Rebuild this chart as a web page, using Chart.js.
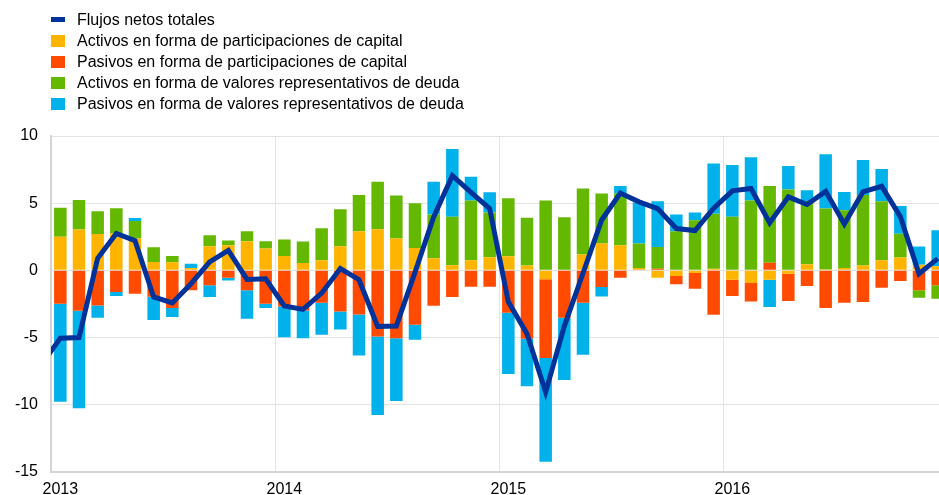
<!DOCTYPE html>
<html lang="es">
<head>
<meta charset="utf-8">
<title>Flujos netos de inversiones de cartera</title>
<script src="https://cdn.jsdelivr.net/npm/chart.js@4.4.1/dist/chart.umd.min.js"></script>
<style>
  html, body { margin: 0; padding: 0; background: #fff; overflow: hidden; }
  #wrap { position: relative; width: 939px; height: 495px; overflow: hidden; }
  #net-chart { position: absolute; left: 0; top: 0; }
  #legend { position: absolute; left: 0; top: 0; font: 16px "Liberation Sans", Arial, sans-serif; color: #000; }
  .row { position: absolute; left: 0; height: 22px; line-height: 22px; white-space: nowrap; }
  .row .mk { position: absolute; left: 51px; width: 14px; }
  .row .tx { position: absolute; left: 77px; top: 0; }
</style>
</head>
<body>
<div id="wrap">
  <canvas id="net-chart" width="960" height="507"></canvas>
  <div id="legend"></div>
</div>
<script>
// meses (el primero, dic 2012, queda fuera del eje y solo sirve para el tramo inicial de la linea)
var months = [
  '2012-12',
  '2013-01', '2013-02', '2013-03', '2013-04', '2013-05', '2013-06',
  '2013-07', '2013-08', '2013-09', '2013-10', '2013-11', '2013-12',
  '2014-01', '2014-02', '2014-03', '2014-04', '2014-05', '2014-06',
  '2014-07', '2014-08', '2014-09', '2014-10', '2014-11', '2014-12',
  '2015-01', '2015-02', '2015-03', '2015-04', '2015-05', '2015-06',
  '2015-07', '2015-08', '2015-09', '2015-10', '2015-11', '2015-12',
  '2016-01', '2016-02', '2016-03', '2016-04', '2016-05', '2016-06',
  '2016-07', '2016-08', '2016-09', '2016-10', '2016-11', '2016-12'
];

var flujosNetos = [
  -7.0,
  -5.05, -5.0, 0.9, 2.74, 2.2, -1.98, -2.43, -1.0, 0.62, 1.48, -0.68, -0.63,
  -2.65, -2.91, -1.7, 0.13, -0.7, -4.18, -4.15, -0.15, 3.97, 7.05, 5.8, 4.6,
  -2.35, -4.72, -9.07, -4.15, -0.22, 3.75, 5.75, 5.1, 4.6, 3.11, 2.96, 4.62,
  5.92, 6.09, 3.53, 5.47, 4.9, 5.88, 3.45, 5.85, 6.26, 4.0, -0.25, 0.87
];

var activosCapital = [
  null,
  2.49, 3.03, 2.71, 2.75, 2.36, 0.62, 0.6, 0.17, 1.79, 1.87, 2.16, 1.62,
  1.07, 0.55, 0.75, 1.79, 2.91, 3.06, 2.36, 1.67, 0.9, 0.37, 0.75, 0.97,
  1.04, 0.35, -0.67, 0.05, 1.17, 1.99, 1.87, 0.17, -0.55, -0.42, -0.2, 0.12,
  -0.7, -0.95, -0.7, -0.25, 0.45, 0.07, 0.17, 0.35, 0.75, 0.95, 0.42, 0.3
];

var pasivosCapital = [
  null,
  -2.49, -3.01, -2.61, -1.62, -1.74, -1.97, -2.81, -1.49, -1.12, -0.55, -1.49, -2.49,
  -2.69, -2.99, -2.41, -3.06, -3.28, -4.93, -5.05, -4.05, -2.64, -1.99, -1.22, -1.22,
  -3.16, -5.1, -5.85, -3.53, -2.41, -1.24, -0.55, 0, 0.12, -0.62, -1.17, -3.31,
  -1.22, -1.37, 0.57, -2.04, -1.17, -2.81, -2.41, -2.36, -1.29, -0.8, -1.49, -1.12
];

var activosDeuda = [
  null,
  2.16, 2.21, 1.69, 1.88, 1.32, 1.09, 0.47, 0, 0.82, 0.35, 0.75, 0.55,
  1.22, 1.59, 2.39, 2.76, 2.69, 3.53, 3.21, 3.33, 3.26, 3.61, 4.45, 3.33,
  4.33, 3.56, 5.2, 3.91, 4.93, 3.73, 3.85, 1.82, 1.62, 2.91, 3.73, 4.1,
  3.98, 5.2, 5.7, 6.02, 4.72, 4.53, 4.3, 5.25, 4.4, 1.77, -0.55, -1.0
];

var pasivosDeuda = [
  null,
  -7.29, -7.26, -0.92, -0.3, 0.22, -1.72, -0.67, 0.32, -0.87, -0.2, -2.11, -0.32,
  -2.29, -2.06, -2.39, -1.34, -3.06, -5.85, -4.68, -1.12, 2.44, 5.05, 1.77, 1.52,
  -4.55, -3.53, -7.74, -4.63, -3.88, -0.7, 0.55, 3.05, 3.41, 1.24, 0.57, 3.73,
  3.86, 3.21, -2.04, 1.74, 0.8, 4.05, 1.37, 2.61, 2.39, 2.06, 1.35, 2.69
];

var yTicks = [10, 5, 0, -5, -10, -15];

var colors = {
  line: '#003299',
  yellow: '#ffb400',
  red: '#ff4b00',
  green: '#65b800',
  blue: '#00b1ea',
  grid: '#e3e3e3',
  axis: '#d4d4d4',
  text: '#000'
};

Chart.defaults.font.family = '"Liberation Sans", Arial, sans-serif';
Chart.defaults.font.size = 16;
Chart.defaults.color = colors.text;

function barSet(label, data, color) {
  return {
    type: 'bar',
    label: label,
    data: data,
    backgroundColor: color,
    borderWidth: 0,
    barPercentage: 0.67,
    categoryPercentage: 1,
    order: 1
  };
}

var canvas = document.getElementById('net-chart');
var chart = new Chart(canvas, {
  type: 'bar',
  data: {
    labels: months,
    datasets: [
      {
        type: 'line',
        label: 'Flujos netos totales',
        data: flujosNetos,
        borderColor: colors.line,
        backgroundColor: colors.line,
        borderWidth: 5,
        pointRadius: 0,
        pointHoverRadius: 0,
        tension: 0,
        stack: 'total',
        order: 0,
        clip: { left: 0, top: 5, right: 5, bottom: 5 }
      },
      barSet('Activos en forma de participaciones de capital', activosCapital, colors.yellow),
      barSet('Pasivos en forma de participaciones de capital', pasivosCapital, colors.red),
      barSet('Activos en forma de valores representativos de deuda', activosDeuda, colors.green),
      barSet('Pasivos en forma de valores representativos de deuda', pasivosDeuda, colors.blue)
    ]
  },
  options: {
    responsive: false,
    animation: false,
    layout: { padding: { top: 136, right: 13, left: 0, bottom: 0 } },
    plugins: {
      legend: { display: false },
      tooltip: { enabled: false }
    },
    scales: {
      x: {
        stacked: true,
        min: '2013-01',
        offset: true,
        grid: {
          offset: true,
          drawTicks: false,
          lineWidth: 1,
          color: function (ctx) {
            if (!ctx.tick) return 'rgba(0,0,0,0)';
            var lab = months[ctx.tick.value];
            if (lab && lab.slice(5) === '01' && lab !== '2013-01') return colors.grid;
            return 'rgba(0,0,0,0)';
          }
        },
        border: { color: colors.axis, width: 2 },
        ticks: {
          autoSkip: false,
          maxRotation: 0,
          padding: 8,
          color: colors.text,
          callback: function (value) {
            var lab = months[value];
            return lab && lab.slice(5) === '01' ? lab.slice(0, 4) : '';
          }
        }
      },
      y: {
        stacked: true,
        min: -15,
        max: 10,
        afterBuildTicks: function (axis) {
          axis.ticks = yTicks.map(function (v) { return { value: v }; });
        },
        afterFit: function (axis) { axis.width = 51; },
        grid: { color: colors.grid, lineWidth: 1, drawTicks: false },
        border: { color: colors.axis, width: 2 },
        ticks: { padding: 13, color: colors.text }
      }
    }
  }
});

// leyenda en HTML, una entrada por fila, a partir de los datasets del grafico
(function () {
  var box = document.getElementById('legend');
  var rowTop = 8.5;
  var step = 21.2;
  chart.data.datasets.forEach(function (ds, i) {
    var row = document.createElement('div');
    row.className = 'row';
    row.style.top = (rowTop + i * step) + 'px';
    var mk = document.createElement('span');
    mk.className = 'mk';
    mk.style.background = ds.type === 'line' ? ds.borderColor : ds.backgroundColor;
    if (ds.type === 'line') {
      mk.style.height = '5px';
      mk.style.top = '8.5px';
    } else {
      mk.style.height = '12px';
      mk.style.top = '5px';
    }
    var tx = document.createElement('span');
    tx.className = 'tx';
    tx.textContent = ds.label;
    row.appendChild(mk);
    row.appendChild(tx);
    box.appendChild(row);
  });
})();
</script>
</body>
</html>
